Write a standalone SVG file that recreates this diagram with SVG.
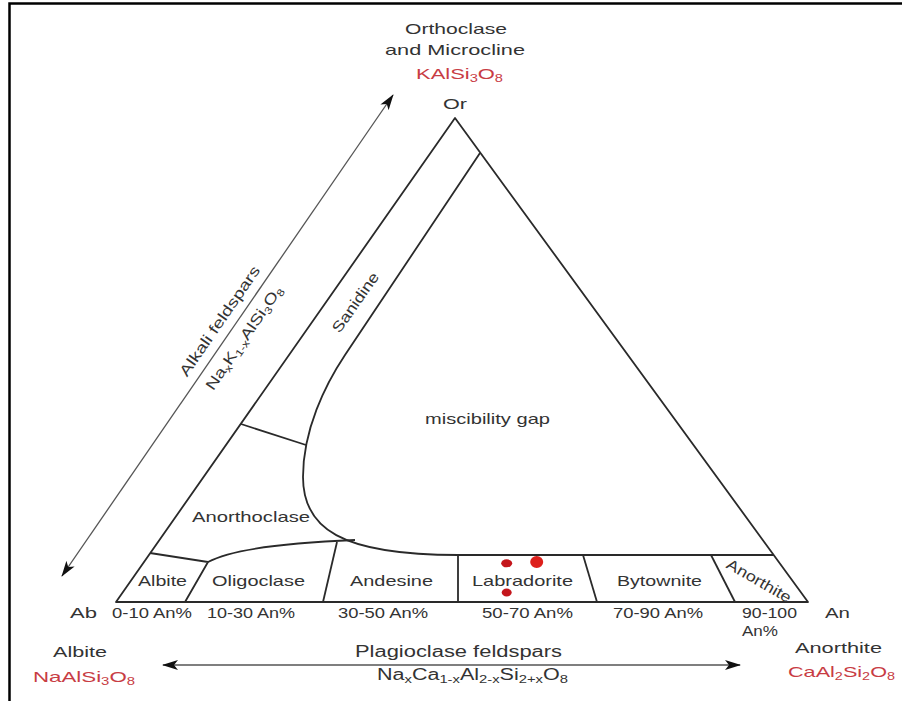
<svg xmlns="http://www.w3.org/2000/svg" width="902" height="701" viewBox="0 0 902 701">
<defs>
<style>
text{font-family:"Liberation Sans",Arial,sans-serif;fill:#333;}
.lbl{font-size:15px;}
.big{font-size:16px;}
.sm{font-size:14px;}
.red{fill:#c83c44;}
.ln{fill:none;stroke:#2a2a2a;stroke-width:1.8;stroke-linejoin:round;}
.arr{fill:none;stroke:#555;stroke-width:1.3;marker-start:url(#ah);marker-end:url(#ah);}
.dot{fill:#c4161c;}
</style>
<marker id="ah" viewBox="0 0 16 10" refX="15" refY="5" markerWidth="16" markerHeight="10" markerUnits="userSpaceOnUse" orient="auto-start-reverse">
<path d="M0,0 L16,5 L0,10 L4,5 Z" fill="#111"/>
</marker>
</defs>
<rect width="902" height="701" fill="#fff"/>
<g id="frame">
<path d="M9.5,701 L9.5,3.5 L902,3.5" fill="none" stroke="#000" stroke-width="2.5"/>
</g>
<g id="triangle">
<path class="ln" d="M455,118 L808,602 L116,602 Z"/>
</g>
<g id="boundaries">
<path class="ln" d="M480,153 L345,355 C325,385 303,430 303,477 C303,528 340,555 458,555 L774,555"/>
<path class="ln" d="M241,424 L306,445"/>
<path class="ln" d="M150,553 L208,562 L185,602"/>
<path class="ln" d="M208,562 C230,550 280,543 355,540"/>
<path class="ln" d="M337,542 L323,602"/>
<path class="ln" d="M458,555 L458,602"/>
<path class="ln" d="M583,555 L597,602"/>
<path class="ln" d="M711,555 L735,602"/>
</g>
<g id="connectors">
<line class="arr" x1="62" y1="576" x2="393" y2="95"/>
<line class="arr" x1="163" y1="665" x2="740" y2="665"/>
</g>
<g id="node-or">
<text class="lbl" x="405" y="33.5" textLength="102" lengthAdjust="spacingAndGlyphs">Orthoclase</text>
<text class="lbl" x="385" y="54.5" textLength="140" lengthAdjust="spacingAndGlyphs">and Microcline</text>
<text class="lbl red" x="416" y="79" textLength="87" lengthAdjust="spacingAndGlyphs">KAlSi<tspan font-size="10" dy="3">3</tspan><tspan dy="-3">O</tspan><tspan font-size="10" dy="3">8</tspan></text>
<text class="lbl" x="443" y="108.5" textLength="24" lengthAdjust="spacingAndGlyphs">Or</text>
</g>
<g id="node-alkali">
<g transform="translate(231.7,329.3) rotate(-55.5)">
<text class="lbl" x="0" y="-9.5" text-anchor="middle" textLength="130" lengthAdjust="spacingAndGlyphs">Alkali feldspars</text>
<text class="lbl" x="0" y="20" text-anchor="middle" textLength="123" lengthAdjust="spacingAndGlyphs">Na<tspan font-size="10" dy="3">x</tspan><tspan dy="-3">K</tspan><tspan font-size="10" dy="3">1-x</tspan><tspan dy="-3">AlSi</tspan><tspan font-size="10" dy="3">3</tspan><tspan dy="-3">O</tspan><tspan font-size="10" dy="3">8</tspan></text>
</g>
</g>
<g id="node-sanidine">
<text class="lbl" transform="translate(355.5,302.5) rotate(-55)" x="0" y="5" text-anchor="middle" textLength="70" lengthAdjust="spacingAndGlyphs">Sanidine</text>
</g>
<g id="node-gap">
<text class="lbl" x="425" y="424" textLength="125" lengthAdjust="spacingAndGlyphs">miscibility gap</text>
</g>
<g id="node-anorthoclase">
<text class="lbl" x="192" y="521.5" textLength="118" lengthAdjust="spacingAndGlyphs">Anorthoclase</text>
</g>
<g id="node-albite-band">
<text class="lbl" x="138" y="585.5" textLength="49" lengthAdjust="spacingAndGlyphs">Albite</text>
</g>
<g id="node-oligoclase">
<text class="lbl" x="212" y="585.5" textLength="93" lengthAdjust="spacingAndGlyphs">Oligoclase</text>
</g>
<g id="node-andesine">
<text class="lbl" x="350" y="585.5" textLength="83" lengthAdjust="spacingAndGlyphs">Andesine</text>
</g>
<g id="node-labradorite">
<text class="lbl" x="472" y="585.5" textLength="101" lengthAdjust="spacingAndGlyphs">Labradorite</text>
<ellipse class="dot" cx="506.7" cy="563.3" rx="5.5" ry="4"/>
<ellipse class="dot" cx="536.7" cy="562" rx="6.5" ry="6" fill="#e0201c" style="fill:#dd1f1b"/>
<ellipse class="dot" cx="506.7" cy="592.5" rx="5" ry="4"/>
</g>
<g id="node-bytownite">
<text class="lbl" x="617" y="585.5" textLength="85" lengthAdjust="spacingAndGlyphs">Bytownite</text>
</g>
<g id="node-anorthite-band">
<text class="lbl" transform="translate(759,581) rotate(30)" x="0" y="5" text-anchor="middle" textLength="72" lengthAdjust="spacingAndGlyphs">Anorthite</text>
</g>
<g id="node-scale">
<text class="lbl" x="70" y="618" textLength="27" lengthAdjust="spacingAndGlyphs">Ab</text>
<text class="sm" x="112" y="618" textLength="80" lengthAdjust="spacingAndGlyphs">0-10 An%</text>
<text class="sm" x="207" y="618" textLength="88" lengthAdjust="spacingAndGlyphs">10-30 An%</text>
<text class="sm" x="338" y="618" textLength="90" lengthAdjust="spacingAndGlyphs">30-50 An%</text>
<text class="sm" x="482" y="618" textLength="91" lengthAdjust="spacingAndGlyphs">50-70 An%</text>
<text class="sm" x="613" y="618" textLength="90" lengthAdjust="spacingAndGlyphs">70-90 An%</text>
<text class="sm" x="742" y="618" textLength="55" lengthAdjust="spacingAndGlyphs">90-100</text>
<text class="sm" x="742" y="636" textLength="36" lengthAdjust="spacingAndGlyphs">An%</text>
<text class="lbl" x="825" y="618" textLength="25" lengthAdjust="spacingAndGlyphs">An</text>
</g>
<g id="node-albite">
<text class="lbl" x="53" y="657" textLength="54" lengthAdjust="spacingAndGlyphs">Albite</text>
<text class="lbl red" x="33" y="682" textLength="102" lengthAdjust="spacingAndGlyphs">NaAlSi<tspan font-size="10" dy="3">3</tspan><tspan dy="-3">O</tspan><tspan font-size="10" dy="3">8</tspan></text>
</g>
<g id="node-plagioclase">
<text class="big" x="355" y="657" textLength="207" lengthAdjust="spacingAndGlyphs">Plagioclase feldspars</text>
<text class="big" x="377" y="680" textLength="191" lengthAdjust="spacingAndGlyphs">Na<tspan font-size="11" dy="3">x</tspan><tspan dy="-3">Ca</tspan><tspan font-size="11" dy="3">1-x</tspan><tspan dy="-3">Al</tspan><tspan font-size="11" dy="3">2-x</tspan><tspan dy="-3">Si</tspan><tspan font-size="11" dy="3">2+x</tspan><tspan dy="-3">O</tspan><tspan font-size="11" dy="3">8</tspan></text>
</g>
<g id="node-anorthite">
<text class="lbl" x="795" y="652.5" textLength="87" lengthAdjust="spacingAndGlyphs">Anorthite</text>
<text class="lbl red" x="788" y="677" textLength="107" lengthAdjust="spacingAndGlyphs">CaAl<tspan font-size="10" dy="3">2</tspan><tspan dy="-3">Si</tspan><tspan font-size="10" dy="3">2</tspan><tspan dy="-3">O</tspan><tspan font-size="10" dy="3">8</tspan></text>
</g>
</svg>
